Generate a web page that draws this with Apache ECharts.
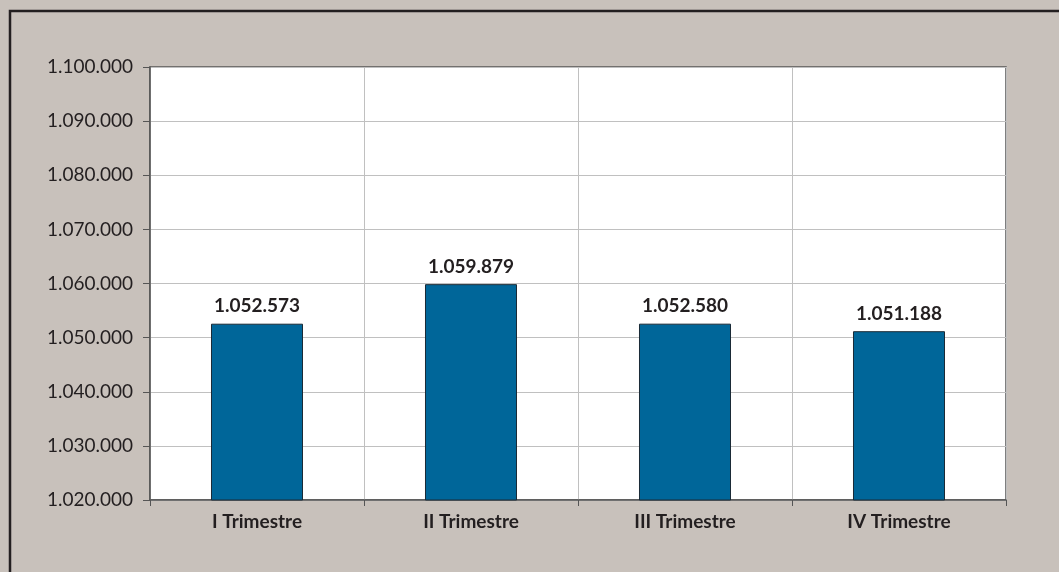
<!DOCTYPE html>
<html>
<head>
<meta charset="utf-8">
<script src="https://cdn.jsdelivr.net/npm/echarts@6/dist/echarts.min.js"></script>
<style>
  html, body { margin: 0; padding: 0; background: #c8c1bb; }
  #chart { width: 1059px; height: 572px; }
</style>
</head>
<body>
<div id="chart"></div>
<script>
const categories = ['I Trimestre', 'II Trimestre', 'III Trimestre', 'IV Trimestre']
const values = [1052573, 1059879, 1052580, 1051188]
const yMin = 1020000
const yMax = 1100000
const yStep = 10000

const fmt = (v) => String(Math.round(v)).replace(/\B(?=(\d{3})+(?!\d))/g, '.')

const myChart = echarts.init(document.getElementById('chart'))
const option = {
  backgroundColor: '#c8c1bb',
  animation: false,
  graphic: [{
    type: 'rect',
    shape: { x: 10, y: 11, width: 1100, height: 600 },
    style: { fill: 'none', stroke: '#231f20', lineWidth: 2.5 },
    silent: true
  }],
  grid: {
    left: 150,
    right: 53,
    top: 67,
    bottom: 72,
    show: true,
    backgroundColor: '#ffffff',
    borderColor: '#555555',
    borderWidth: 1.5
  },
  xAxis: {
    type: 'category',
    data: categories,
    axisLine: { lineStyle: { color: '#555555', width: 1.5 } },
    axisTick: { show: true, length: 6, lineStyle: { color: '#555555' } },
    splitLine: { show: true, lineStyle: { color: '#c0c0c0' } },
    axisLabel: {
      color: '#231f20',
      fontFamily: 'Lato',
      fontWeight: 'bold',
      fontSize: 19,
      margin: 12
    }
  },
  yAxis: {
    type: 'value',
    min: yMin,
    max: yMax,
    interval: yStep,
    axisLine: { show: true, lineStyle: { color: '#555555', width: 1.5 } },
    axisTick: { show: true, length: 7, lineStyle: { color: '#555555' } },
    splitLine: { lineStyle: { color: '#c0c0c0' } },
    axisLabel: {
      color: '#231f20',
      fontFamily: 'Lato',
      fontSize: 19,
      margin: 17,
      formatter: fmt
    }
  },
  series: [{
    type: 'bar',
    data: values,
    barWidth: '43%',
    itemStyle: { color: '#006699', borderColor: '#1a2a36', borderWidth: 1 },
    label: {
      show: true,
      position: 'top',
      distance: 8,
      color: '#231f20',
      fontFamily: 'Lato',
      fontWeight: 'bold',
      fontSize: 19,
      formatter: (p) => fmt(p.value)
    }
  }]
}
myChart.setOption(option)
</script>
</body>
</html>
